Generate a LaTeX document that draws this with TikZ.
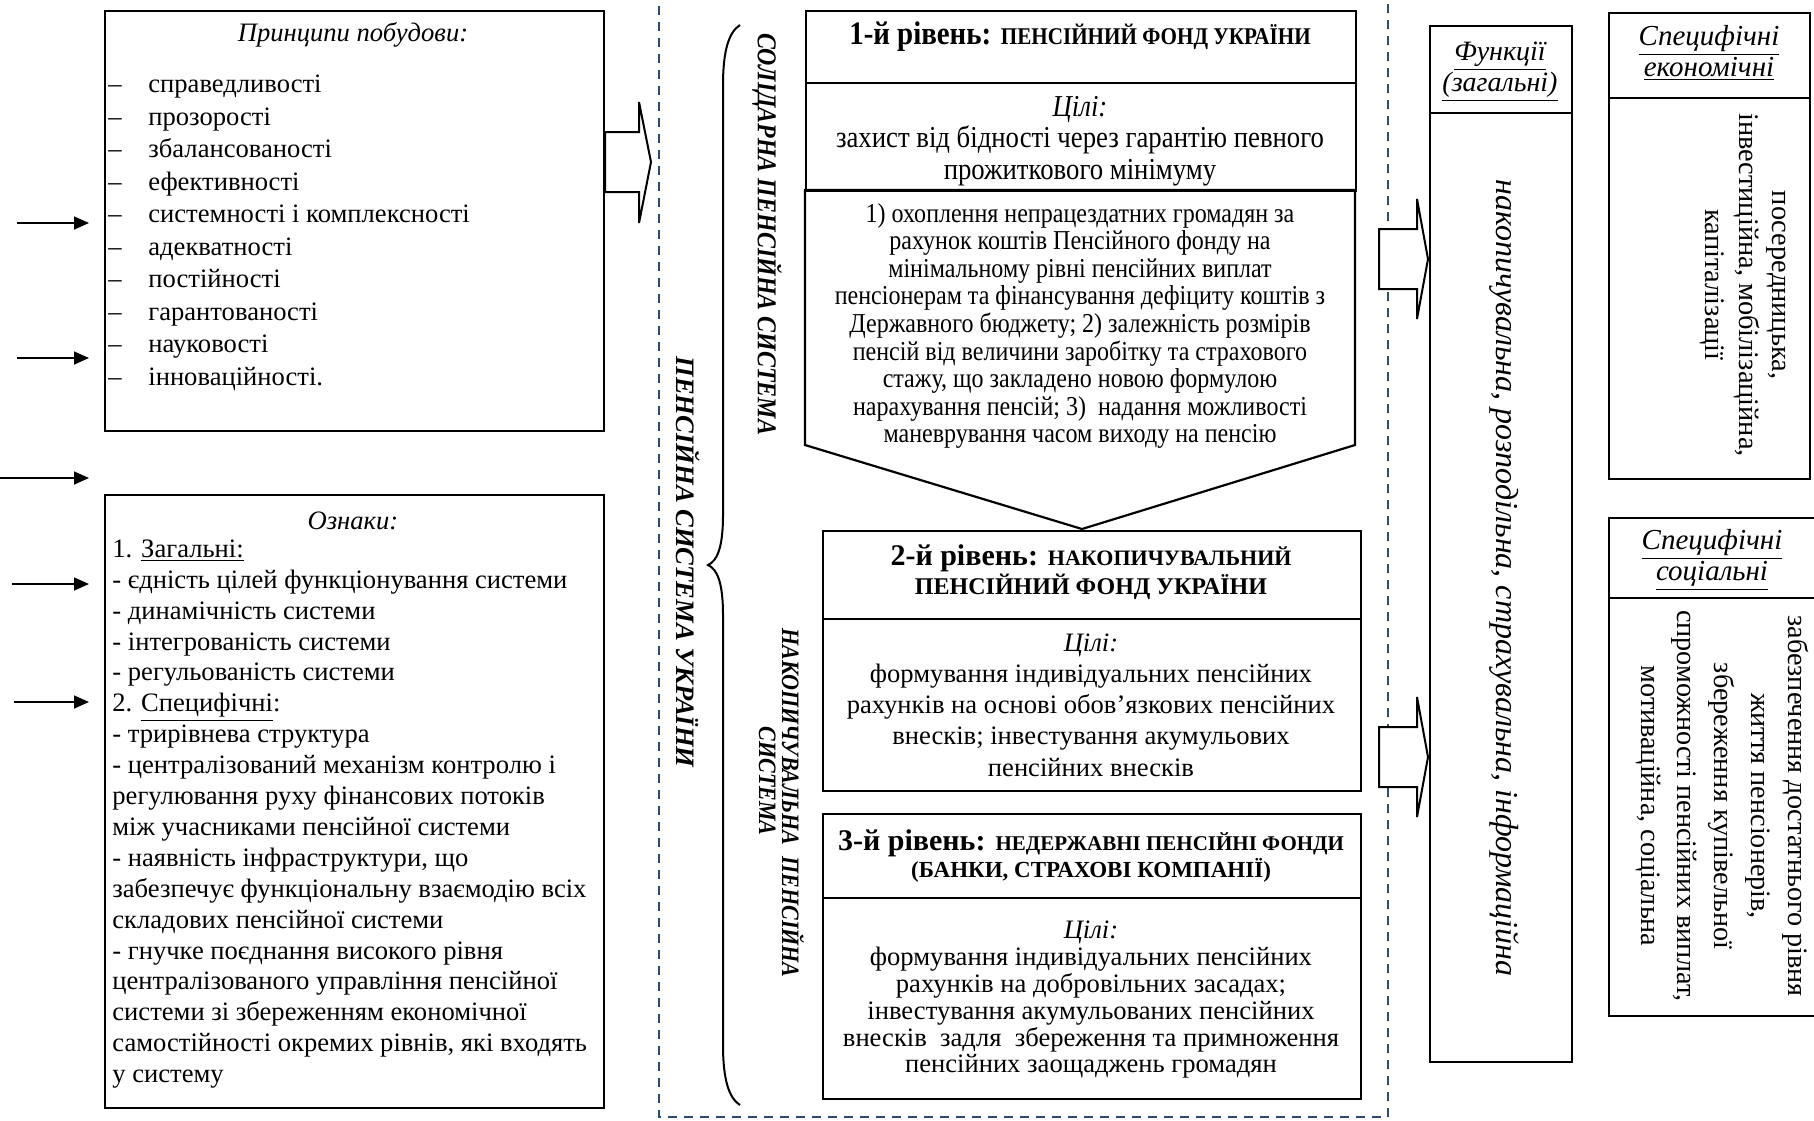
\documentclass[tikz,border=0pt]{standalone}
\usepackage{fontspec}
\setmainfont{Liberation Serif}
\newfontfamily\narrowserif{Liberation Serif}[FakeStretch=0.88]
\usetikzlibrary{arrows.meta}
\definecolor{dashblue}{HTML}{2E4A6E}
\newcommand{\fs}[2]{\fontsize{#1}{#2}\selectfont}
\tikzset{
  box/.style={draw, line width=1.1pt, inner sep=0pt, anchor=north west},
  txt/.style={inner sep=0pt, align=center},
  ptr/.style={line width=0.8pt, -{Triangle[length=7.5pt,width=6.5pt]}},
  blockarrow/.style={draw, line width=1pt, fill=white, line join=miter},
  frame/.style={draw=dashblue, line width=1.2pt, dash pattern=on 4.5pt off 3.5pt},
  bracestyle/.style={draw, line width=1pt},
}
\begin{document}
\begin{tikzpicture}[x=0.5pt,y=-0.5pt]
\useasboundingbox[fill=white] (0,0) rectangle (1814,1120);

% dashed frame
\draw[frame] (659,-10) -- (659,1117) -- (1388,1117) -- (1388,-10);

% left boxes
\node[box, minimum width=249.5pt, minimum height=210pt] (P) at (104,10) {};
\node[box, minimum width=249.5pt, minimum height=306.5pt] (O) at (104,494) {};

\node[txt, font=\fs{13.3}{16}\itshape] (Pt) at (353,35) {Принципи побудови:};
\node[inner sep=0pt, align=left, anchor=west, font=\fs{13.3}{16.25}] (Pl) at (108,233) {%
\makebox[20pt][l]{–}справедливості\\
\makebox[20pt][l]{–}прозорості\\
\makebox[20pt][l]{–}збалансованості\\
\makebox[20pt][l]{–}ефективності\\
\makebox[20pt][l]{–}системності і комплексності\\
\makebox[20pt][l]{–}адекватності\\
\makebox[20pt][l]{–}постійності\\
\makebox[20pt][l]{–}гарантованості\\
\makebox[20pt][l]{–}науковості\\
\makebox[20pt][l]{–}інноваційності.};

\node[txt, font=\fs{13.3}{16}\itshape] (Ot) at (353,521) {Ознаки:};
\node[inner sep=0pt, align=left, anchor=west, font=\fs{13.3}{15.45}] (Ol) at (112,814) {%
1. \underline{Загальні:}\\
- єдність цілей функціонування системи\\
- динамічність системи\\
- інтегрованість системи\\
- регульованість системи\\
2. \underline{Специфічні}:\\
- трирівнева структура\\
- централізований механізм контролю і\\
регулювання руху фінансових потоків\\
між учасниками пенсійної системи\\
- наявність інфраструктури, що\\
забезпечує функціональну взаємодію всіх\\
складових пенсійної системи\\
- гнучке поєднання високого рівня\\
централізованого управління пенсійної\\
системи зі збереженням економічної\\
самостійності окремих рівнів, які входять\\
у систему};

% left arrows
\coordinate (a1s) at (17,223); \coordinate (a1e) at (89,223);
\coordinate (a2s) at (17,358); \coordinate (a2e) at (89,358);
\coordinate (a3s) at (0,478);  \coordinate (a3e) at (89,478);
\coordinate (a4s) at (12,584); \coordinate (a4e) at (89,584);
\coordinate (a5s) at (14,702); \coordinate (a5e) at (89,702);
\draw[ptr] (a1s) -- (a1e);
\draw[ptr] (a2s) -- (a2e);
\draw[ptr] (a3s) -- (a3e);
\draw[ptr] (a4s) -- (a4e);
\draw[ptr] (a5s) -- (a5e);

% block arrow from principles
\draw[blockarrow] (605,132) -- (639,132) -- (639,102) -- (651,162) -- (639,223) -- (639,192) -- (605,192) -- cycle;

% brace
\draw[bracestyle] (740,25) .. controls (729,32) and (723,50) .. (723,85) -- (723,515)
  .. controls (723,548) and (717,561) .. (708,565)
  .. controls (717,569) and (723,582) .. (723,615) -- (723,1045)
  .. controls (723,1080) and (729,1098) .. (740,1105);

% rotated labels
\node[txt, rotate=-90, font=\fs{13.3}{16}\bfseries\itshape] (Tall) at (688,562) {ПЕНСІЙНА СИСТЕМА УКРАЇНИ};
\node[txt, rotate=-90, font=\narrowserif\fs{13.6}{16}\bfseries\itshape] (Tsol) at (767,234) {СОЛІДАРНА ПЕНСІЙНА СИСТЕМА};
\node[txt, rotate=-90, font=\narrowserif\fs{12.5}{11.5}\bfseries\itshape] (Tnak) at (781.5,803) {НАКОПИЧУВАЛЬНА~ ПЕНСІЙНА\\СИСТЕМА\rule{22pt}{0pt}};

% level 1
\node[box, minimum width=275pt, minimum height=36pt] (L1h) at (805,10) {};
\node[box, minimum width=275pt, minimum height=54pt] (L1g) at (805,82) {};
\coordinate (L1tip) at (1082,529);
\draw[line width=1.1pt, line join=miter] (805,190) -- (1355,190) -- (1355,445) -- (L1tip) -- (805,445) -- cycle;
\node[txt, font=\narrowserif\bfseries] (L1t) at (1080,37) {\fs{16.4}{18}1-й рівень: \fs{12}{13}ПЕНСІЙНИЙ ФОНД УКРАЇНИ};
\node[txt, font=\narrowserif\fs{15.2}{15.75}] (L1gt) at (1080,141) {\textit{Цілі:}\\захист від бідності через гарантію певного\\прожиткового мінімуму};
\node[txt, font=\narrowserif\fs{13.65}{13.8}] (L1d) at (1080,326) {1) охоплення непрацездатних громадян за\\рахунок коштів Пенсійного фонду на\\мінімальному рівні пенсійних виплат\\пенсіонерам та фінансування дефіциту коштів з\\Державного бюджету; 2) залежність розмірів\\пенсій від величини заробітку та страхового\\стажу, що закладено новою формулою\\нарахування пенсій; 3)~ надання можливості\\маневрування часом виходу на пенсію};

% level 2
\node[box, minimum width=269pt, minimum height=44pt] (L2h) at (822,530) {};
\node[box, minimum width=269pt, minimum height=86pt] (L2g) at (822,618) {};
\node[txt, font=\bfseries] (L2t) at (1091,572) {\fs{15}{13}2-й рівень: \fs{11}{13}НАКОПИЧУВАЛЬНИЙ\\\fs{12}{13}ПЕНСІЙНИЙ ФОНД УКРАЇНИ};
\node[txt, font=\fs{13.3}{15.6}] (L2d) at (1091,705) {\textit{Цілі:}\\формування індивідуальних пенсійних\\рахунків на основі обов’язкових пенсійних\\внесків; інвестування акумульових\\пенсійних внесків};

% level 3
\node[box, minimum width=269pt, minimum height=42pt] (L3h) at (822,813) {};
\node[box, minimum width=269pt, minimum height=100.5pt] (L3g) at (822,897) {};
\node[txt, font=\bfseries] (L3t) at (1091,856) {\fs{15}{13}3-й рівень: \fs{10.5}{13}НЕДЕРЖАВНІ ПЕНСІЙНІ ФОНДИ\\\fs{11.5}{13}(БАНКИ, СТРАХОВІ КОМПАНІЇ)};
\node[txt, font=\fs{13.3}{13.4}] (L3d) at (1091,1000) {\textit{Цілі:}\\формування індивідуальних пенсійних\\рахунків на добровільних засадах;\\інвестування акумульованих пенсійних\\внесків~ задля~ збереження та примноження\\пенсійних заощаджень громадян};

% right block arrows
\draw[blockarrow] (1379,229) -- (1417,229) -- (1417,199) -- (1428,259) -- (1417,319) -- (1417,289) -- (1379,289) -- cycle;
\draw[blockarrow] (1379,727) -- (1417,727) -- (1417,697) -- (1428,757) -- (1417,817) -- (1417,787) -- (1379,787) -- cycle;

% functions box
\node[box, minimum width=71pt, minimum height=43.5pt] (Fh) at (1429,25) {};
\node[box, minimum width=71pt, minimum height=474.5pt] (Fb) at (1429,112) {};
\node[txt, font=\fs{14}{14.5}\itshape] (Fht) at (1500,71.5) {\underline{Функції}\\\underline{(загальні)}};
\node[txt, rotate=-90, font=\fs{16}{19}\itshape] (Fbt) at (1504,578) {накопичувальна, розподільна, страхувальна, інформаційна};

% specific economic
\node[box, minimum width=100.5pt, minimum height=42.5pt] (Eh) at (1608,12) {};
\node[box, minimum width=100.5pt, minimum height=190.5pt] (Eb) at (1608,97) {};
\node[txt, font=\fs{14.5}{15.5}\itshape] (Eht) at (1709,53) {\underline{Специфічні}\\\underline{економічні}};
\node[txt, rotate=-90, font=\fs{14.2}{16.75}] (Ebt) at (1743,285) {посередницька,\\інвестиційна, мобілізаційна,\\капіталізації};

% specific social
\node[box, minimum width=112pt, minimum height=40pt] (Sh) at (1608,517) {};
\node[box, minimum width=112pt, minimum height=209pt] (Sb) at (1608,597) {};
\node[txt, font=\fs{14.5}{14.5}\itshape] (Sht) at (1712,560) {\underline{Специфічні}\\\underline{соціальні}};
\node[txt, rotate=-90, font=\fs{14.1}{18.4}] (Sbt) at (1722,806) {забезпечення достатнього рівня\\життя пенсіонерів,\\збереження купівельної\\спроможності пенсійних виплат,\\мотиваційна, соціальна};
\end{tikzpicture}
\end{document}
